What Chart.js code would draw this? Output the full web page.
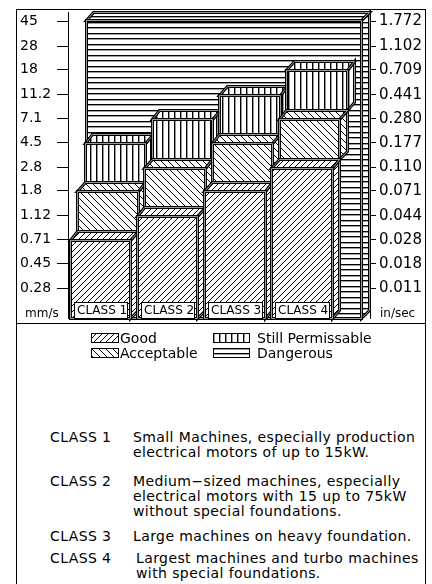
<!DOCTYPE html>
<html>
<head>
<meta charset="utf-8">
<title>Vibration severity</title>
<script src="https://cdn.jsdelivr.net/npm/chart.js@4.4.1/dist/chart.umd.min.js"></script>
<style>
  html, body { margin: 0; padding: 0; background: #fff; }
  body { position: relative; width: 432px; height: 584px; overflow: hidden;
         font-family: "DejaVu Sans", sans-serif; color: #000; }
  #frame { position: absolute; left: 16px; top: 9px; width: 410px; height: 600px;
           border: 1px solid #000; border-bottom: none; box-sizing: border-box; }
  #sep { position: absolute; left: 16px; top: 323px; width: 410px; border-top: 1px solid #000; }
  #chart { position: absolute; left: 0; top: 0; }
  .unit { position: absolute; top: 305px; font-size: 12px; line-height: 16px; }
  .key { position: absolute; font-size: 14px; line-height: 15px; white-space: nowrap; }
  .key canvas { position: absolute; top: 2px; }
  .row { position: absolute; left: 0; width: 432px; font-size: 14px; line-height: 15px; letter-spacing: 0.4px; }
  .cls { position: absolute; left: 50px; white-space: nowrap; }
  .txt { position: absolute; left: 133px; white-space: nowrap; }
</style>
</head>
<body>
<div id="frame"></div>
<div id="sep"></div>
<canvas id="chart" width="432" height="330"></canvas>

<span class="unit" style="left:25px">mm/s</span>
<span class="unit" style="left:380px">in/sec</span>

<div class="key" style="left:120px;top:331px"><canvas data-key="good" width="28" height="10" style="left:-29px"></canvas>Good</div>
<div class="key" style="left:120px;top:346px"><canvas data-key="acceptable" width="28" height="10" style="left:-29px"></canvas>Acceptable</div>
<div class="key" style="left:257px;top:331px"><canvas data-key="still" width="37" height="10" style="left:-44px"></canvas>Still Permissable</div>
<div class="key" style="left:257px;top:346px"><canvas data-key="dangerous" width="37" height="10" style="left:-44px"></canvas>Dangerous</div>

<div class="row" style="top:430px"><span class="cls">CLASS 1</span><span class="txt">Small Machines, especially production<br>electrical motors of up to 15kW.</span></div>
<div class="row" style="top:474px"><span class="cls">CLASS 2</span><span class="txt">Medium−sized machines, especially<br>electrical motors with 15 up to 75kW<br>without special foundations.</span></div>
<div class="row" style="top:529px"><span class="cls">CLASS 3</span><span class="txt">Large machines on heavy foundation.</span></div>
<div class="row" style="top:551px"><span class="cls">CLASS 4</span><span class="txt" style="left:136px">Largest machines and turbo machines<br>with special foundations.</span></div>

<script>
// --- data (mm/s) ---
const classLabels = ['CLASS 1', 'CLASS 2', 'CLASS 3', 'CLASS 4'];
const classPos = [1, 2, 3, 4];
const goodTop = [0.71, 1.12, 1.8, 2.8];
const acceptableTop = [1.8, 2.8, 4.5, 7.1];
const stillTop = [4.5, 7.1, 11.2, 18];
const dangerousTop = [46, 46, 46, 46];

const axisMin = 0.16;
const axisMax = 54;
const mmTicks = [0.28, 0.45, 0.71, 1.12, 1.8, 2.8, 4.5, 7.1, 11.2, 18, 28, 45];
const mmLabels = ['0.28', '0.45', '0.71', '1.12', '1.8', '2.8', '4.5', '7.1', '11.2', '18', '28', '45'];
const inLabels = ['0.011', '0.018', '0.028', '0.044', '0.071', '0.110', '0.177', '0.280', '0.441', '0.709', '1.102', '1.772'];

Chart.defaults.font.family = '"DejaVu Sans", sans-serif';
Chart.defaults.color = '#000';

// depth of the fake 3d boxes
const DX = 7.5, DY = 8.5;

// --- hatch patterns ---
function tile(w, h, paint) {
  const c = document.createElement('canvas');
  c.width = w; c.height = h;
  const g = c.getContext('2d');
  g.fillStyle = '#fff';
  g.fillRect(0, 0, w, h);
  paint(g, w, h);
  return c;
}
const tiles = {
  good: tile(6, 6, (g, w) => { g.fillStyle = '#000'; for (let i = 0; i < w; i++) g.fillRect(i, w - 1 - i, 1, 1); }),
  acceptable: tile(7, 7, (g, w) => { g.fillStyle = '#000'; for (let i = 0; i < w; i++) g.fillRect(i, i, 1, 1); }),
  still: tile(6, 6, g => { g.fillStyle = '#000'; g.fillRect(0, 0, 1, 6); g.fillStyle = '#999'; g.fillRect(1, 0, 1, 6); }),
  dangerous: tile(6, 11, g => {
    g.fillStyle = '#000'; g.fillRect(0, 0, 6, 1); g.fillRect(0, 5, 6, 1);
    g.fillStyle = '#a0a0a0'; g.fillRect(0, 1, 6, 1); g.fillRect(0, 6, 6, 1);
  })
};
const pctx = document.createElement('canvas').getContext('2d');
const patterns = {};
for (const k in tiles) patterns[k] = pctx.createPattern(tiles[k], 'repeat');

// --- 3d box drawing ---
const px = v => Math.round(v) + 0.5;
function path(ctx, pts) {
  ctx.beginPath();
  ctx.moveTo(px(pts[0][0]), px(pts[0][1]));
  for (let i = 1; i < pts.length; i++) ctx.lineTo(px(pts[i][0]), px(pts[i][1]));
  ctx.closePath();
}
function face(ctx, pts, fill) {
  path(ctx, pts);
  ctx.fillStyle = fill;
  ctx.fill();
  ctx.lineJoin = 'miter';
  ctx.strokeStyle = '#000';
  ctx.lineWidth = 3;
  ctx.stroke();
  ctx.strokeStyle = '#9a9a9a';
  ctx.lineWidth = 1;
  ctx.stroke();
}
function drawBox(ctx, l, r, t, b, fill) {
  face(ctx, [[r, t], [r + DX, t - DY], [r + DX, b - DY], [r, b]], fill);
  face(ctx, [[l, t], [l + DX, t - DY], [r + DX, t - DY], [r, t]], fill);
  face(ctx, [[l, t], [r, t], [r, b], [l, b]], fill);
}

const box3d = {
  id: 'box3d',
  beforeDatasetDraw(chart, args) {
    const ds = chart.data.datasets[args.index];
    const ctx = chart.ctx;
    const shift = ds.depth * DX;
    const bars = args.meta.data.map(el => el.getProps(['x', 'y', 'base', 'width'], true));
    ctx.save();
    if (ds.backdrop) {
      // one box behind everything, spanning all classes
      const l = Math.min(...bars.map(b => b.x - b.width / 2)) + shift;
      const r = Math.max(...bars.map(b => b.x + b.width / 2)) + shift;
      const t = Math.min(...bars.map(b => b.y));
      drawBox(ctx, l, r, t, chart.chartArea.bottom, ds.backgroundColor);
    } else {
      bars.forEach(b => {
        const bottom = ds.depth > 0 ? b.base - DY : b.base;
        drawBox(ctx, b.x - b.width / 2 + shift, b.x + b.width / 2 + shift, b.y, bottom, ds.backgroundColor);
      });
    }
    ctx.restore();
    return false;
  },
  afterDatasetsDraw(chart) {
    // class tags at the foot of each bar
    const ctx = chart.ctx;
    const bottom = chart.chartArea.bottom;
    ctx.save();
    ctx.font = '12px "DejaVu Sans"';
    ctx.textBaseline = 'middle';
    chart.getDatasetMeta(0).data.forEach((el, i) => {
      const {x, width} = el.getProps(['x', 'width'], true);
      const l = Math.round(x - width / 2 + 4), r = Math.round(x + width / 2 - 3);
      ctx.fillStyle = '#fff';
      ctx.fillRect(l, bottom - 16, r - l, 16);
      ctx.strokeStyle = '#000';
      ctx.lineWidth = 1;
      ctx.strokeRect(l + 0.5, bottom - 15.5, r - l, 16);
      ctx.fillStyle = '#000';
      ctx.fillText(classLabels[i], l + 3, bottom - 7);
    });
    ctx.restore();
  }
};

const common = { grouped: false, categoryPercentage: 1, barPercentage: 0.9, borderWidth: 0 };
const datasets = [
  { ...common, label: 'Good', depth: 0, backgroundColor: patterns.good,
    data: goodTop.map((t, i) => ({ x: classPos[i], y: [axisMin, t] })) },
  { ...common, label: 'Acceptable', depth: 1, backgroundColor: patterns.acceptable,
    data: acceptableTop.map((t, i) => ({ x: classPos[i], y: [goodTop[i], t] })) },
  { ...common, label: 'Still Permissable', depth: 2, backgroundColor: patterns.still,
    data: stillTop.map((t, i) => ({ x: classPos[i], y: [acceptableTop[i], t] })) },
  { ...common, label: 'Dangerous', depth: 3, backdrop: true, barPercentage: 1.1, backgroundColor: patterns.dangerous,
    data: dangerousTop.map((t, i) => ({ x: classPos[i], y: [stillTop[i], t] })) }
];

new Chart(document.getElementById('chart'), {
  type: 'bar',
  data: { datasets },
  plugins: [box3d],
  options: {
    responsive: false,
    animation: false,
    devicePixelRatio: 1,
    layout: { padding: { left: 20, right: 6, top: 9, bottom: 7 } },
    plugins: { legend: { display: false }, tooltip: { enabled: false } },
    scales: {
      x: {
        type: 'linear', display: false, offset: false, min: 0.524, max: 5.018,
        afterBuildTicks: s => { s.ticks = classPos.map(v => ({ value: v })); }
      },
      y: {
        type: 'logarithmic', position: 'left', min: axisMin, max: axisMax,
        afterBuildTicks: s => { s.ticks = mmTicks.map(v => ({ value: v })); },
        afterFit: s => { s.width = 48; },
        ticks: { autoSkip: false, crossAlign: 'far', padding: 2, font: { size: 14 }, color: '#000',
                 callback: (v, i) => mmLabels[i] },
        grid: { drawOnChartArea: false, tickLength: 11, tickColor: '#000', tickWidth: 1 },
        border: { display: true, color: '#000', width: 1 }
      },
      y2: {
        type: 'logarithmic', position: 'right', min: axisMin, max: axisMax,
        afterBuildTicks: s => { s.ticks = mmTicks.map(v => ({ value: v })); },
        afterFit: s => { s.width = 56; },
        ticks: { autoSkip: false, crossAlign: 'near', padding: 3, font: { size: 15 }, color: '#000',
                 callback: (v, i) => inLabels[i] },
        grid: { drawOnChartArea: false, tickLength: 6, tickColor: '#000', tickWidth: 1 },
        border: { display: true, color: '#000', width: 1 }
      }
    }
  }
});

// legend swatches use the same hatches
document.querySelectorAll('.key canvas').forEach(c => {
  const g = c.getContext('2d');
  g.fillStyle = patterns[c.dataset.key];
  g.fillRect(0, 0, c.width, c.height);
  g.strokeStyle = '#000';
  g.lineWidth = 1;
  g.strokeRect(0.5, 0.5, c.width - 1, c.height - 1);
});
</script>
</body>
</html>
